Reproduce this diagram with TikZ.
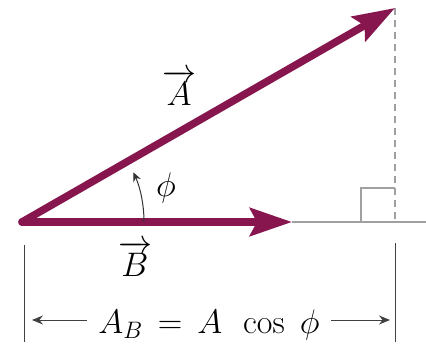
\RequirePackage{fix-cm}
\documentclass[tikz,border=0pt]{standalone}
\usetikzlibrary{arrows.meta}
\definecolor{vecred}{RGB}{135,22,78}
\definecolor{guide}{RGB}{160,160,160}
\begin{document}
\begin{tikzpicture}[x=1pt,y=-1pt,
  vec/.style={draw=vecred,line width=7.5pt,line cap=round,-{Stealth[length=42pt,width=28pt,inset=7pt,fill=vecred]}},
  guideline/.style={draw=guide,line width=1.8pt},
  dimline/.style={draw=black!75,line width=1pt},
  dimarrow/.style={draw=black!75,line width=1pt,-{Stealth[length=11pt,width=9pt]}},
  lbl/.style={font=\fontsize{34}{38}\selectfont,inner sep=1pt},
]
\useasboundingbox (0,0) rectangle (426,348);
\coordinate (O) at (22,222);
\coordinate (Atip) at (395,8);
\coordinate (Btip) at (292,222);
\coordinate (Rend) at (426,222);
\coordinate (Foot) at (395,222);
% guides
\draw[guideline] (Btip) -- (Rend);
\draw[guideline,dashed,dash pattern=on 7pt off 5pt] (Atip) -- (Foot);
\draw[guideline] (361,222) -- (361,188) -- (395,188);
% vectors
\draw[vec] (O) -- (Atip);
\draw[vec] (O) -- (Btip);
% angle
\draw[black!80,line width=1pt,-{Stealth[length=9pt,width=8pt]}] (144,222) arc[start angle=0,end angle=-24,radius=122];
\node[lbl,anchor=base] (phi) at (166,196) {$\phi$};
\node[lbl,anchor=base] (Alab) at (179,105) {$\overrightarrow{A}$};
\node[lbl,anchor=base] (Blab) at (135,276) {$\overrightarrow{B}$};
% dimension
\coordinate (L1) at (24,245);
\coordinate (L2) at (24,342);
\coordinate (R1) at (395,243);
\coordinate (R2) at (395,342);
\draw[dimline] (L1) -- (L2);
\draw[dimline] (R1) -- (R2);
\node[lbl,anchor=base] (eq) at (209,333) {$A_B \,\mathrel{=}\, A\;\,\cos\;\phi$};
\coordinate (La) at (32,320);
\coordinate (Ra) at (390,320);
\draw[dimarrow] (eq.west |- La) ++(-10,0) -- (La);
\draw[dimarrow] (eq.east |- Ra) ++(10,0) -- (Ra);
\end{tikzpicture}
\end{document}
